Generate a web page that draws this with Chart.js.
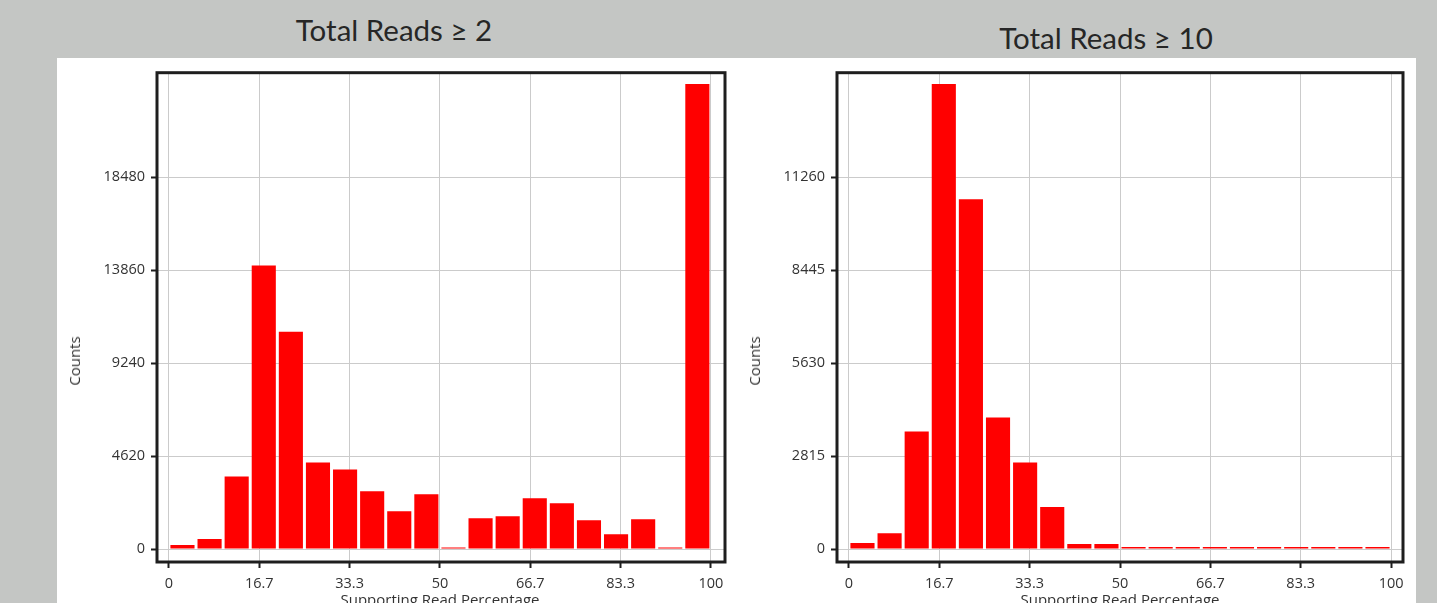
<!DOCTYPE html>
<html><head><meta charset="utf-8">
<script src="https://cdn.jsdelivr.net/npm/chart.js@4"></script>
<style>
html,body{margin:0;padding:0;background:#c4c6c4;width:1437px;height:603px;overflow:hidden;position:relative;}
#panel{position:absolute;left:57px;top:58px;width:1359px;height:545px;background:#fff;}
.title{position:absolute;font-family:Lato,'Open Sans',sans-serif;font-size:29.5px;color:#262626;white-space:nowrap;transform:translate(-50%,-50%);line-height:32px;}
.cw{position:absolute;top:58px;width:680px;height:545px;}
.axt{position:absolute;font-family:'Open Sans',sans-serif;font-size:15px;color:#333;white-space:nowrap;line-height:18px;}
.ylab{transform:translate(-50%,-50%) rotate(-90deg);}
.xlab{transform:translateX(-50%);}
</style></head><body>
<div id="panel"></div>
<div class="title" style="left:394px;top:30px">Total Reads ≥ 2</div>
<div class="title" style="left:1106px;top:38px">Total Reads ≥ 10</div>
<div class="cw" style="left:57px"><canvas id="c1" width="680" height="545"></canvas></div>
<div class="cw" style="left:737px"><canvas id="c2" width="680" height="545"></canvas></div>
<div class="axt ylab" style="left:74px;top:361px">Counts</div>
<div class="axt ylab" style="left:754px;top:361px">Counts</div>
<div class="axt xlab" style="left:440px;top:590px">Supporting Read Percentage</div>
<div class="axt xlab" style="left:1120px;top:590px">Supporting Read Percentage</div>
<script>
// Histogram bins (centres of 5%-wide bins)
const binCenters = [2.5,7.5,12.5,17.5,22.5,27.5,32.5,37.5,42.5,47.5,52.5,57.5,62.5,67.5,72.5,77.5,82.5,87.5,92.5,97.5];
// Counts, Total Reads >= 2
const countsReads2 = [200,500,3610,14080,10790,4300,3960,2870,1880,2720,80,1530,1630,2520,2280,1430,740,1480,80,23100];
// Counts, Total Reads >= 10
const countsReads10 = [180,480,3560,14075,10590,3980,2620,1270,150,150,60,60,60,60,60,60,60,60,60,60];
// Tick values / labels
const xTickValues = [0,16.667,33.333,50,66.667,83.333,100];
const xTickLabels = ['0','16.7','33.3','50','66.7','83.3','100'];
const yTicksReads2 = [0,4620,9240,13860,18480];
const yTicksReads10 = [0,2815,5630,8445,11260];

const framePlugin = {
  id:'frame',
  afterDraw(chart){
    const {ctx, chartArea:a} = chart;
    ctx.save();
    ctx.strokeStyle='#1e1e1e';
    ctx.lineWidth=3;
    ctx.strokeRect(a.left,a.top,a.right-a.left,a.bottom-a.top);
    ctx.restore();
  }
};

function makeChart(id, values, yTicks, yMin, yMax, xMax, padRight){
  const tickFont = {family:"'Open Sans', sans-serif", size:14.5};
  return new Chart(document.getElementById(id), {
    type:'bar',
    data:{datasets:[{
      data: binCenters.map((c,i)=>({x:c,y:values[i]})),
      backgroundColor:'#ff0000',
      borderWidth:0,
      barPercentage:0.89,
      categoryPercentage:1.0
    }]},
    options:{
      responsive:false,
      animation:false,
      layout:{padding:{top:13,right:padRight,left:0,bottom:0}},
      plugins:{legend:{display:false},tooltip:{enabled:false}},
      scales:{
        x:{
          type:'linear', min:-2.2, max:xMax, offset:false,
          grid:{offset:false,color:'#cbcbcb',lineWidth:1,drawTicks:true,tickLength:6,tickColor:'#1e1e1e',tickWidth:2},
          border:{display:false},
          afterBuildTicks(s){ s.ticks = xTickValues.map(v=>({value:v})); },
          ticks:{color:'#333',font:tickFont,padding:7,maxRotation:0,autoSkip:false,
            callback:(v,i)=>xTickLabels[i]},
          afterFit(s){ s.height = 41; }
        },
        y:{
          type:'linear', min:yMin, max:yMax,
          grid:{color:'#cbcbcb',lineWidth:1,drawTicks:true,tickLength:6,tickColor:'#1e1e1e',tickWidth:2},
          border:{display:false},
          afterBuildTicks(s){ s.ticks = yTicks.map(v=>({value:v})); },
          ticks:{color:'#333',font:tickFont,padding:6,autoSkip:false,
            callback:(v,i)=>String(yTicks[i])},
          afterFit(s){ s.width = 100; }
        }
      }
    },
    plugins:[framePlugin]
  });
}
makeChart('c1', countsReads2, yTicksReads2, -640, 23660, 102.6, 12);
makeChart('c2', countsReads10, yTicksReads10, -392, 14420, 102.2, 14);
</script>
</body></html>
